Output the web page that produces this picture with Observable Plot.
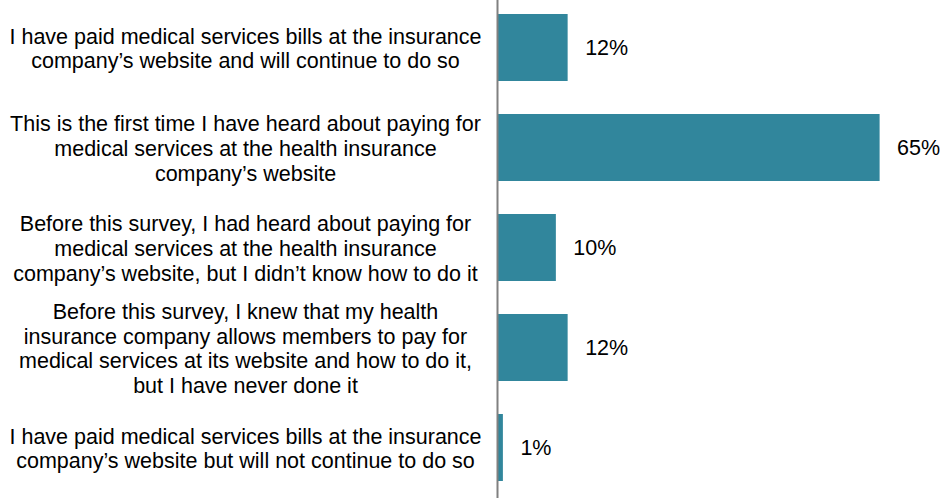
<!DOCTYPE html>
<html>
<head>
<meta charset="utf-8">
<script src="https://cdn.jsdelivr.net/npm/d3@7"></script>
<script src="https://cdn.jsdelivr.net/npm/@observablehq/plot@0.6"></script>
<style>
  html, body { margin: 0; padding: 0; background: #fff; }
</style>
</head>
<body>
<div id="chart"></div>
<script>
const categories = [
  "I have paid medical services bills at the insurance\ncompany’s website and will continue to do so",
  "This is the first time I have heard about paying for\nmedical services at the health insurance\ncompany’s website",
  "Before this survey, I had heard about paying for\nmedical services at the health insurance\ncompany’s website, but I didn’t know how to do it",
  "Before this survey, I knew that my health\ninsurance company allows members to pay for\nmedical services at its website and how to do it,\nbut I have never done it",
  "I have paid medical services bills at the insurance\ncompany’s website but will not continue to do so"
];
const values = [12, 65, 10, 12, 1];

const data = categories.map((c, i) => ({category: c, value: values[i]}));

const chart = Plot.plot({
  width: 942,
  height: 498,
  marginLeft: 497,
  marginRight: 0,
  marginTop: 0,
  marginBottom: 0,
  style: {fontFamily: "'Liberation Sans', Arial, sans-serif", fontSize: "21.5px", color: "#000", background: "#fff"},
  x: {domain: [0, 75.6], axis: null},
  y: {domain: categories, range: [-4, 498], paddingInner: 0.33, paddingOuter: 0.165, label: null},
  marks: [
    Plot.barX(data, {x: "value", y: "category", fill: "#31869c"}),
    Plot.ruleX([0], {stroke: "#808080", strokeWidth: 2}),
    Plot.text(data, {x: "value", y: "category", text: d => d.value + "%", textAnchor: "start", dx: 17, fontSize: 21.5, fill: "#000"}),
    Plot.axisY({tickSize: 0, textAnchor: "middle", dx: -243, fontSize: 21.5, lineHeight: 1.16, fill: "#000", label: null})
  ]
});
document.getElementById("chart").appendChild(chart);
</script>
</body>
</html>
